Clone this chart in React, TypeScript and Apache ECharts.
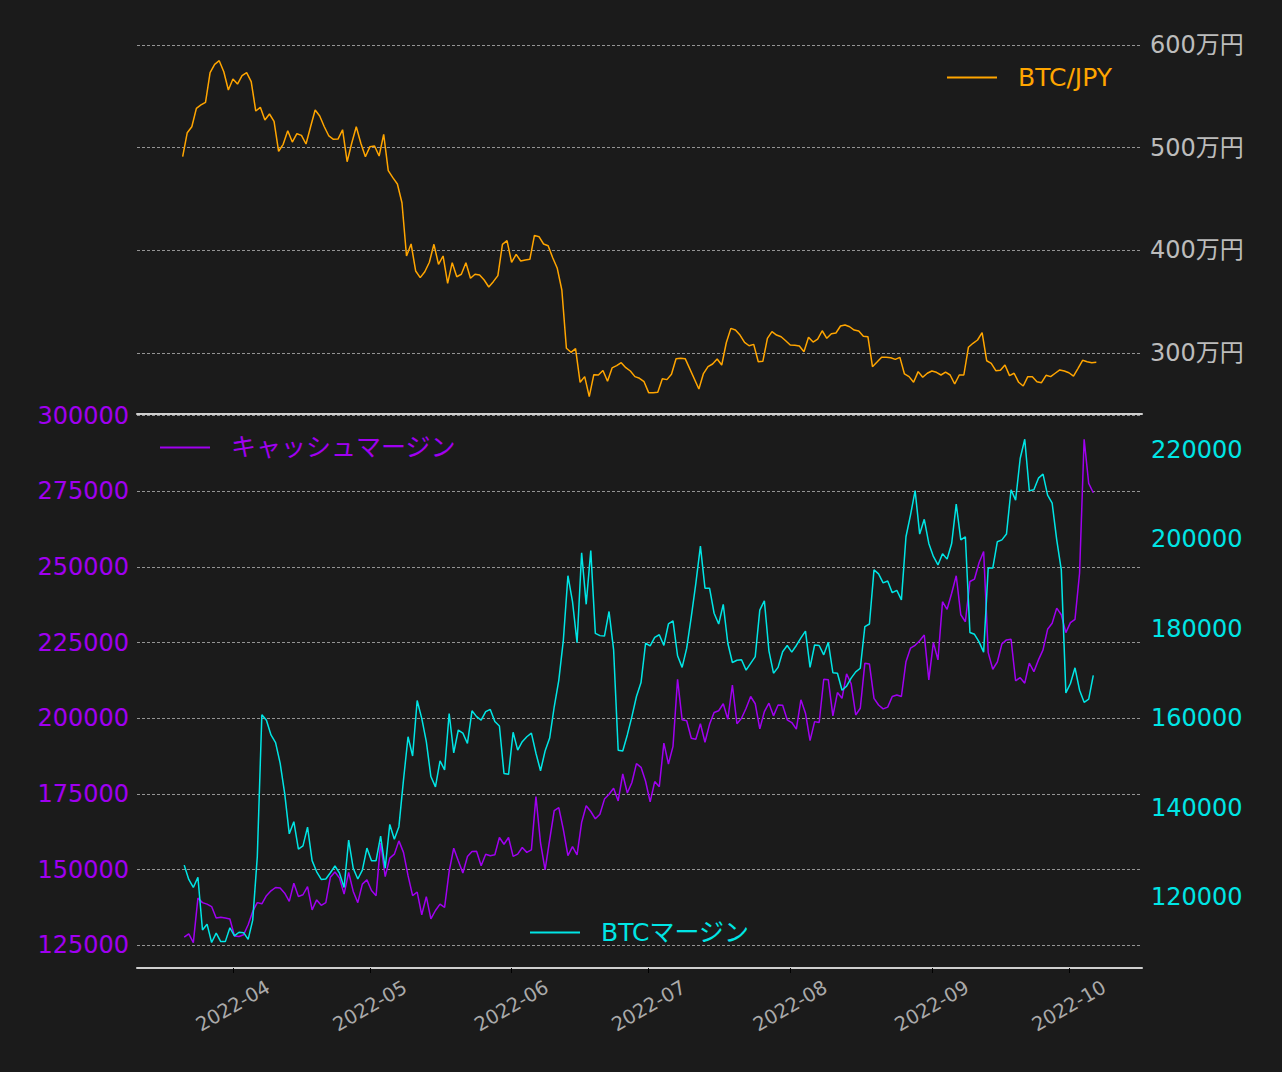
import React, { useEffect, useRef } from "react";
import * as echarts from "echarts";

// ---- data ----
const START_DATE = "2022-03-21"; // first daily observation
const MARGIN_HOUR = 8; // margin balances are recorded in the morning
const AXIS_START = "2022-03-11";
const AXIS_END = "2022-10-17";
const MONTH_TICKS = ["2022-04-01", "2022-05-01", "2022-06-01", "2022-07-01", "2022-08-01", "2022-09-01", "2022-10-01"];

// BTC/JPY close, in 万円 (null = no data that day)
const btcJpy: (number | null)[] = [
  491.2, 514.6, 520.4, 538.3, 541.6, 544.2, 573.1, 581.2, 584.7, 574.0,
  556.2, 566.9, 562.0, 570.1, 573.1, 564.3, 535.7, 539.3, 527.0, 532.8,
  525.7, 496.5, 503.3, 516.5, 505.5, 513.6, 512.0, 503.6, 520.4, 536.7,
  530.8, 520.4, 511.4, 508.1, 508.4, 517.5, 486.3, 504.3, 520.4, 504.3,
  491.2, 501.0, 501.6, 491.9, 513.0, 477.6, 470.8, 464.6, 446.4, 394.5,
  406.2, 379.9, 373.4, 379.2, 388.4, 405.9, 386.4, 394.5, 367.9, 388.0,
  374.3, 376.7, 388.0, 372.8, 376.7, 376.0, 371.1, 364.3, 369.5, 375.4,
  405.9, 409.4, 388.4, 396.1, 389.6, 390.6, 391.3, 414.6, 413.3, 406.2,
  404.5, 392.8, 382.5, 361.4, 304.6, 300.7, 304.2, 271.5, 277.0, 257.5,
  278.9, 278.6, 283.0, 272.5, 285.5, 287.7, 290.6, 285.7, 282.5, 277.0,
  275.4, 272.1, 261.4, 261.4, 261.7, 275.0, 274.1, 279.3, 294.5, 294.8,
  294.5, null, null, 264.9, 280.0, 286.7, 289.3, 294.2, 288.3, 310.0,
  324.0, 322.4, 317.5, 310.4, 307.1, 308.4, 291.5, 291.9, 314.3, 320.8,
  317.5, 315.9, 312.0, 307.8, 307.5, 306.8, 301.3, 315.3, 310.7, 313.6,
  321.7, 314.3, 318.8, 319.5, 326.3, 327.3, 325.6, 322.4, 321.4, 316.3,
  315.9, 286.7, 291.2, 295.8, 295.8, 295.4, 293.8, 295.8, 279.6, 277.0,
  271.5, 281.9, 276.4, 280.3, 282.5, 281.2, 278.6, 281.5, 278.6, 269.8,
  278.6, 278.6, 305.6, 309.5, 312.7, 319.8, 292.5, 290.0, 282.8, 283.2,
  288.3, 278.0, 280.3, 271.5, 267.9, 277.0, 277.0, 272.1, 271.1, 278.3,
  277.0, 280.3, 283.5, 282.5, 280.8, 277.6, 285.1, 292.9, 291.5, 290.6,
  290.9,
];

// キャッシュマージン (left axis)
const cashMargin: number[] = [
  127700, 128800, 125900, 140600, 139100, 138600, 137800, 134000, 134300, 134000,
  133700, 128100, 127900, 128500, 131800, 136200, 139100, 138700, 141400, 143000,
  144100, 143900, 142200, 139500, 145500, 141100, 141700, 144400, 136700, 140000,
  138200, 139100, 147500, 149200, 147200, 141900, 149100, 142800, 139100, 145200,
  146600, 143100, 141400, 158800, 147700, 153800, 155100, 159500, 155700, 148000,
  141400, 142600, 135100, 141100, 133700, 136500, 138600, 137500, 149400, 157100,
  152900, 148900, 154300, 156000, 156100, 151300, 155100, 154600, 154900, 160600,
  158400, 160600, 154400, 155100, 157300, 155700, 156500, 174100, 158800, 149900,
  159800, 169500, 170500, 163200, 154600, 157600, 154900, 165600, 171100, 169200,
  166800, 168300, 173300, 174900, 176900, 172700, 181600, 175300, 178800, 185000,
  183800, 179200, 172400, 179100, 177400, 191800, 184900, 190700, 212900, 199500,
  199200, 193400, 193100, 198200, 192100, 198000, 201900, 202500, 204800, 199700,
  211000, 198200, 200000, 203300, 207200, 204800, 196500, 202200, 205000, 200800,
  204400, 204300, 199500, 198600, 196400, 206100, 201700, 192600, 198900, 198600,
  212900, 212700, 200800, 208500, 206600, 214700, 211400, 201100, 203300, 218200,
  217900, 206600, 204400, 203100, 203700, 207200, 207700, 207200, 218700, 223200,
  224100, 225600, 227500, 212700, 225000, 219300, 238500, 236000, 241300, 247100,
  234200, 231900, 245200, 246000, 251400, 255100, 221700, 216200, 218600, 224600,
  225900, 226100, 212400, 213400, 211600, 218200, 215400, 219300, 222600, 229400,
  231400, 236400, 234200, 228300, 231600, 232700, 247900, 292200, 277600, 274500,
];

// BTCマージン (right axis)
const btcMargin: number[] = [
  127200, 124000, 122200, 124500, 112700, 114000, 109900, 112000, 110100, 110100,
  113200, 111400, 112200, 112100, 110600, 114900, 129100, 160800, 159600, 156300,
  154600, 150000, 143200, 134200, 136900, 130800, 131500, 135700, 128200, 125700,
  124000, 124100, 125500, 127000, 125400, 122200, 132800, 126500, 124100, 126100,
  131000, 128200, 128200, 133700, 126500, 136300, 133000, 135800, 146200, 155900,
  151600, 164000, 160000, 154800, 147000, 144700, 150500, 148500, 161100, 152300,
  157400, 156700, 154400, 161700, 160400, 159600, 161500, 162000, 159300, 158300,
  147700, 147500, 156900, 152900, 154800, 155900, 156700, 152200, 148300, 152700,
  155600, 162600, 168500, 177500, 191900, 186100, 176900, 197000, 185500, 197500,
  179000, 178500, 178400, 183900, 175300, 152900, 152700, 156300, 160400, 164900,
  168000, 176800, 176200, 178100, 178700, 176300, 181100, 181800, 174000, 171400,
  175700, 182700, 190200, 198500, 189100, 189100, 183500, 181100, 185500, 176800,
  172500, 173000, 173100, 170800, 172300, 173800, 184200, 186300, 175100, 170100,
  171400, 174900, 176300, 174800, 176300, 178000, 179500, 171400, 176400, 176300,
  174200, 177000, 170200, 170100, 166300, 167200, 169000, 170400, 171200, 180500,
  181100, 193200, 192300, 190300, 190700, 188100, 188600, 186500, 200600, 205500,
  210900, 201200, 204500, 199100, 196200, 194300, 196800, 195600, 199100, 207900,
  199900, 200600, 179200, 178800, 177100, 174800, 193600, 193600, 199500, 199900,
  201200, 211100, 208800, 218100, 222400, 210900, 211100, 213700, 214600, 209900,
  208100, 199900, 193200, 165700, 167800, 171300, 166300, 163600, 164300, 169600,
];

// ---- helpers ----
const DAY = 86400000;
const ts = (s: string) => Date.parse(s + "T00:00:00Z");
const dayTs = (i: number, hour = 0) => ts(START_DATE) + i * DAY + hour * 3600000;
const fmtMonth = (v: number) => {
  const d = new Date(v);
  return `${d.getUTCFullYear()}-${String(d.getUTCMonth() + 1).padStart(2, "0")}`;
};

const FONT = "'DejaVu Sans', 'Noto Sans CJK JP', sans-serif";
const BG = "#1b1b1b";
const ORANGE = "#ffa500";
const PURPLE = "#a000f0";
const CYAN = "#00e5e5";
const GRID_LINE = { color: "#b4b4b4", width: 0.8, type: [3, 2] as number[] };

export default function App() {
  const ref = useRef<HTMLDivElement>(null);

  useEffect(() => {
    if (!ref.current) return;
    const chart = echarts.init(ref.current, null, { renderer: "svg" });
    const xMin = ts(AXIS_START);
    const xMax = ts(AXIS_END);
    const monthVals = MONTH_TICKS.map(ts);

    const hiddenX = (gridIndex: number) => ({
      type: "value",
      gridIndex,
      min: xMin,
      max: xMax,
      show: false,
      splitLine: { show: false },
    });

    const legendBase = {
      orient: "horizontal",
      padding: 0,
      itemWidth: 50,
      itemHeight: 2,
      icon: "rect",
      selectedMode: false,
    };
    const legendText = (color: string) => ({
      color,
      fontSize: 25,
      lineHeight: 25,
      fontFamily: FONT,
      padding: [0, 0, 0, 16],
    });

    const option: any = {
      animation: false,
      backgroundColor: BG,
      textStyle: { fontFamily: FONT },
      grid: [
        { left: 137, width: 1005, top: 45, height: 410.7, outerBoundsMode: "none" },
        { left: 137, width: 1005, top: 415.6, height: 529.7, outerBoundsMode: "none" },
        { left: 137, width: 1005, top: 360.5, height: 626.3, outerBoundsMode: "none" },
        { left: 137, width: 1005, top: 414, height: 554, outerBoundsMode: "none" },
      ],
      xAxis: [
        hiddenX(0),
        hiddenX(1),
        hiddenX(2),
        {
          type: "value",
          gridIndex: 3,
          min: xMin,
          max: xMax,
          position: "bottom",
          axisLine: { show: true, lineStyle: { color: "#cfcfcf", width: 2 } },
          axisTick: { show: true, length: 5, lineStyle: { color: "#000", width: 1 }, customValues: monthVals },
          axisLabel: {
            customValues: monthVals,
            formatter: (v: number) => fmtMonth(v),
            rotate: 30,
            align: "center",
            verticalAlign: "middle",
            margin: 38,
            fontSize: 19.5,
            color: "#aaaaaa",
            fontFamily: FONT,
          },
          splitLine: { show: false },
        },
        {
          type: "value",
          gridIndex: 3,
          min: xMin,
          max: xMax,
          position: "top",
          axisLine: { show: true, lineStyle: { color: "#cfcfcf", width: 2 } },
          axisTick: { show: false },
          axisLabel: { show: false },
          splitLine: { show: false },
        },
      ],
      yAxis: [
        {
          type: "value",
          gridIndex: 0,
          position: "right",
          min: 200,
          max: 600,
          interval: 100,
          axisLine: { show: false },
          axisTick: { show: false },
          axisLabel: {
            formatter: (v: number) => `${v}万円`,
            showMinLabel: false,
            color: "#bcbcbc",
            fontSize: 24,
            margin: 8,
            fontFamily: FONT,
          },
          splitLine: { show: true, showMinLine: false, lineStyle: GRID_LINE },
        },
        {
          type: "value",
          gridIndex: 1,
          position: "left",
          min: 125000,
          max: 300000,
          interval: 25000,
          axisLine: { show: false },
          axisTick: { show: false },
          axisLabel: {
            formatter: (v: number) => String(v),
            color: PURPLE,
            fontSize: 24,
            margin: 8,
            fontFamily: FONT,
          },
          splitLine: { show: true, lineStyle: GRID_LINE },
        },
        {
          type: "value",
          gridIndex: 2,
          position: "right",
          min: 100000,
          max: 240000,
          interval: 20000,
          axisLine: { show: false },
          axisTick: { show: false },
          axisLabel: {
            formatter: (v: number) => String(v),
            color: CYAN,
            fontSize: 24,
            margin: 9,
            showMinLabel: false,
            showMaxLabel: false,
            fontFamily: FONT,
          },
          splitLine: { show: false },
        },
        { type: "value", gridIndex: 3, min: 0, max: 1, show: false, splitLine: { show: false } },
      ],
      legend: [
        { ...legendBase, data: ["BTC/JPY"], left: 947, top: 65, textStyle: legendText(ORANGE) },
        { ...legendBase, data: ["キャッシュマージン"], left: 160, top: 435, textStyle: legendText(PURPLE) },
        { ...legendBase, data: ["BTCマージン"], left: 530, top: 920, textStyle: legendText(CYAN) },
      ],
      series: [
        {
          name: "BTC/JPY",
          type: "line",
          xAxisIndex: 0,
          yAxisIndex: 0,
          data: btcJpy.map((v, i) => [dayTs(i), v]),
          showSymbol: false,
          connectNulls: true,
          color: ORANGE,
          lineStyle: { color: ORANGE, width: 1.5 },
        },
        {
          name: "キャッシュマージン",
          type: "line",
          xAxisIndex: 1,
          yAxisIndex: 1,
          data: cashMargin.map((v, i) => [dayTs(i, MARGIN_HOUR), v]),
          showSymbol: false,
          color: PURPLE,
          lineStyle: { color: PURPLE, width: 1.5 },
        },
        {
          name: "BTCマージン",
          type: "line",
          xAxisIndex: 2,
          yAxisIndex: 2,
          data: btcMargin.map((v, i) => [dayTs(i, MARGIN_HOUR), v]),
          showSymbol: false,
          color: CYAN,
          lineStyle: { color: CYAN, width: 1.5 },
        },
      ],
    };

    chart.setOption(option);
    return () => chart.dispose();
  }, []);

  return (
    <div
      ref={ref}
      style={{ position: "fixed", left: 0, top: 0, width: 1282, height: 1072, background: BG }}
    />
  );
}
